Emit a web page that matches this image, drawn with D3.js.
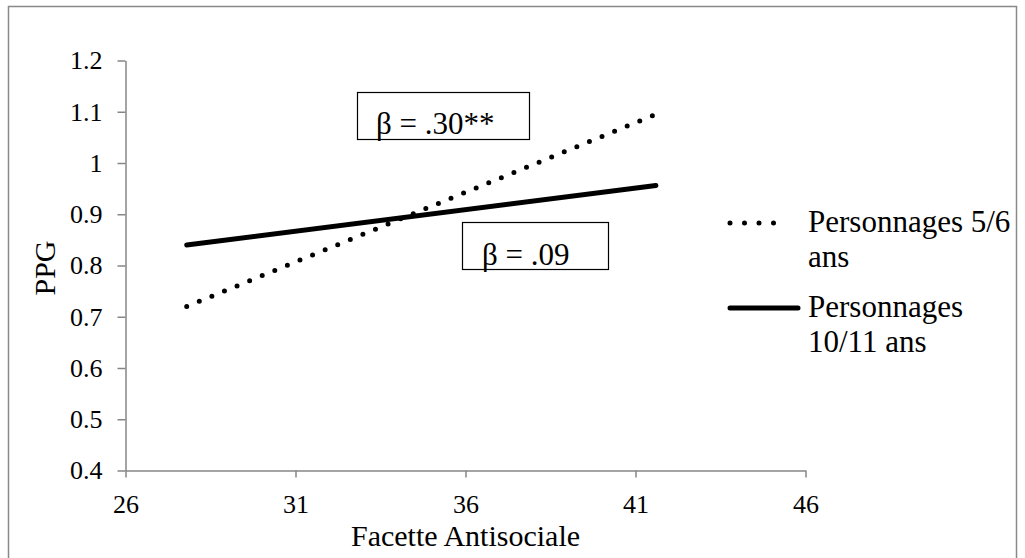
<!DOCTYPE html>
<html>
<head>
<meta charset="utf-8">
<script src="https://cdn.jsdelivr.net/npm/d3@7"></script>
<style>
  html, body { margin: 0; padding: 0; background: #ffffff; }
  #chart-svg text { font-family: "Liberation Serif", "Times New Roman", serif; fill: #000000; }
</style>
</head>
<body>
<svg id="chart-svg"></svg>
<script>
'use strict';

//------------------------------------------------------------
// chart data
//------------------------------------------------------------
const facetteValues = [27.8, 41.6];
const ppgYoung = [0.72, 1.095];
const ppgOld = [0.84, 0.956];
const seriesNames = [["Personnages 5/6", "ans"], ["Personnages", "10/11 ans"]];
const betaLabels = ["\u03B2 = .30**", "\u03B2 = .09"];
const xTickValues = [26, 31, 36, 41, 46];
const yTickValues = [0.4, 0.5, 0.6, 0.7, 0.8, 0.9, 1.0, 1.1, 1.2];
const xTitle = "Facette Antisociale";
const yTitle = "PPG";

{ // start scope

const width = 1025;
const height = 558;
const axisColor = "#868686";

const svg = d3.select("#chart-svg")
    .attr("width", width)
    .attr("height", height);

// outer chart border
svg.append("rect")
    .attr("x", 8.5)
    .attr("y", 6.5)
    .attr("width", 1008)
    .attr("height", 570)
    .style("fill", "none")
    .style("stroke", "#898989")
    .style("stroke-width", 1.5);

const xScale = d3.scaleLinear().domain([26, 46]).range([125.5, 805.5]);
const yScale = d3.scaleLinear().domain([0.4, 1.2]).range([470.5, 60.5]);

//++++++++++++++++++++++++++++++
// axes
//++++++++++++++++++++++++++++++
const yAxis = d3.axisLeft(yScale)
    .tickValues(yTickValues)
    .tickSize(8)
    .tickSizeOuter(0)
    .tickPadding(15)
    .tickFormat((d) => String(+d.toFixed(1)));

const yAxisG = svg.append("g")
    .attr("transform", `translate(${xScale(26)},0)`)
    .call(yAxis);

const xAxis = d3.axisBottom(xScale)
    .tickValues(xTickValues)
    .tickSize(7)
    .tickSizeOuter(0)
    .tickPadding(17)
    .tickFormat(d3.format("d"));

const xAxisG = svg.append("g")
    .attr("transform", `translate(0,${yScale(0.4)})`)
    .call(xAxis);

[yAxisG, xAxisG].forEach((g) => {
    g.select(".domain").style("stroke", axisColor).style("stroke-width", 1.5);
    g.selectAll(".tick line").style("stroke", axisColor).style("stroke-width", 1.5);
    g.selectAll(".tick text")
        .style("font-size", "26px")
        .style("font-family", "\"Liberation Serif\", serif");
});

// axis titles
svg.append("text")
    .attr("x", (xScale(26) + xScale(46)) / 2)
    .attr("y", 546)
    .attr("text-anchor", "middle")
    .style("font-size", "30px")
    .text(xTitle);

svg.append("text")
    .attr("transform", "translate(55,268) rotate(-90)")
    .attr("text-anchor", "middle")
    .style("font-size", "30px")
    .text(yTitle);

//++++++++++++++++++++++++++++++
// lines
//++++++++++++++++++++++++++++++
const lineGen = d3.line()
    .x((d) => xScale(d[0]))
    .y((d) => yScale(d[1]));

svg.append("path")
    .datum(d3.zip(facetteValues, ppgOld))
    .attr("d", lineGen)
    .style("fill", "none")
    .style("stroke", "#000000")
    .style("stroke-width", 5)
    .style("stroke-linecap", "round");

svg.append("path")
    .datum(d3.zip(facetteValues, ppgYoung))
    .attr("d", lineGen)
    .style("fill", "none")
    .style("stroke", "#000000")
    .style("stroke-width", 5)
    .style("stroke-linecap", "round")
    .style("stroke-dasharray", "0 13.6");

//++++++++++++++++++++++++++++++
// beta annotation boxes
//++++++++++++++++++++++++++++++
const boxes = [
    {x: 357.5, y: 92.5, w: 172, h: 47, tx: 376, ty: 134},
    {x: 462.5, y: 222.5, w: 146, h: 47, tx: 482, ty: 265}
];

boxes.forEach((b, i) => {
    svg.append("rect")
        .attr("x", b.x)
        .attr("y", b.y)
        .attr("width", b.w)
        .attr("height", b.h)
        .style("fill", "#ffffff")
        .style("stroke", "#000000")
        .style("stroke-width", 1.2);

    svg.append("text")
        .attr("x", b.tx)
        .attr("y", b.ty)
        .style("font-size", "31px")
        .text(betaLabels[i]);
});

//++++++++++++++++++++++++++++++
// legend
//++++++++++++++++++++++++++++++
const legendItems = [
    {y: 223, dash: "0 14.5", lines: seriesNames[0]},
    {y: 308, dash: null, lines: seriesNames[1]}
];

legendItems.forEach((item) => {
    const sample = svg.append("line")
        .attr("x1", 730)
        .attr("x2", item.dash ? 788 : 798)
        .attr("y1", item.y)
        .attr("y2", item.y)
        .style("stroke", "#000000")
        .style("stroke-width", 5)
        .style("stroke-linecap", "round");
    if (item.dash) sample.style("stroke-dasharray", item.dash);

    item.lines.forEach((txt, k) => {
        svg.append("text")
            .attr("x", 808)
            .attr("y", item.y + 9 + k * 35)
            .style("font-size", "31px")
            .text(txt);
    });
});

} // end scope
</script>
</body>
</html>
